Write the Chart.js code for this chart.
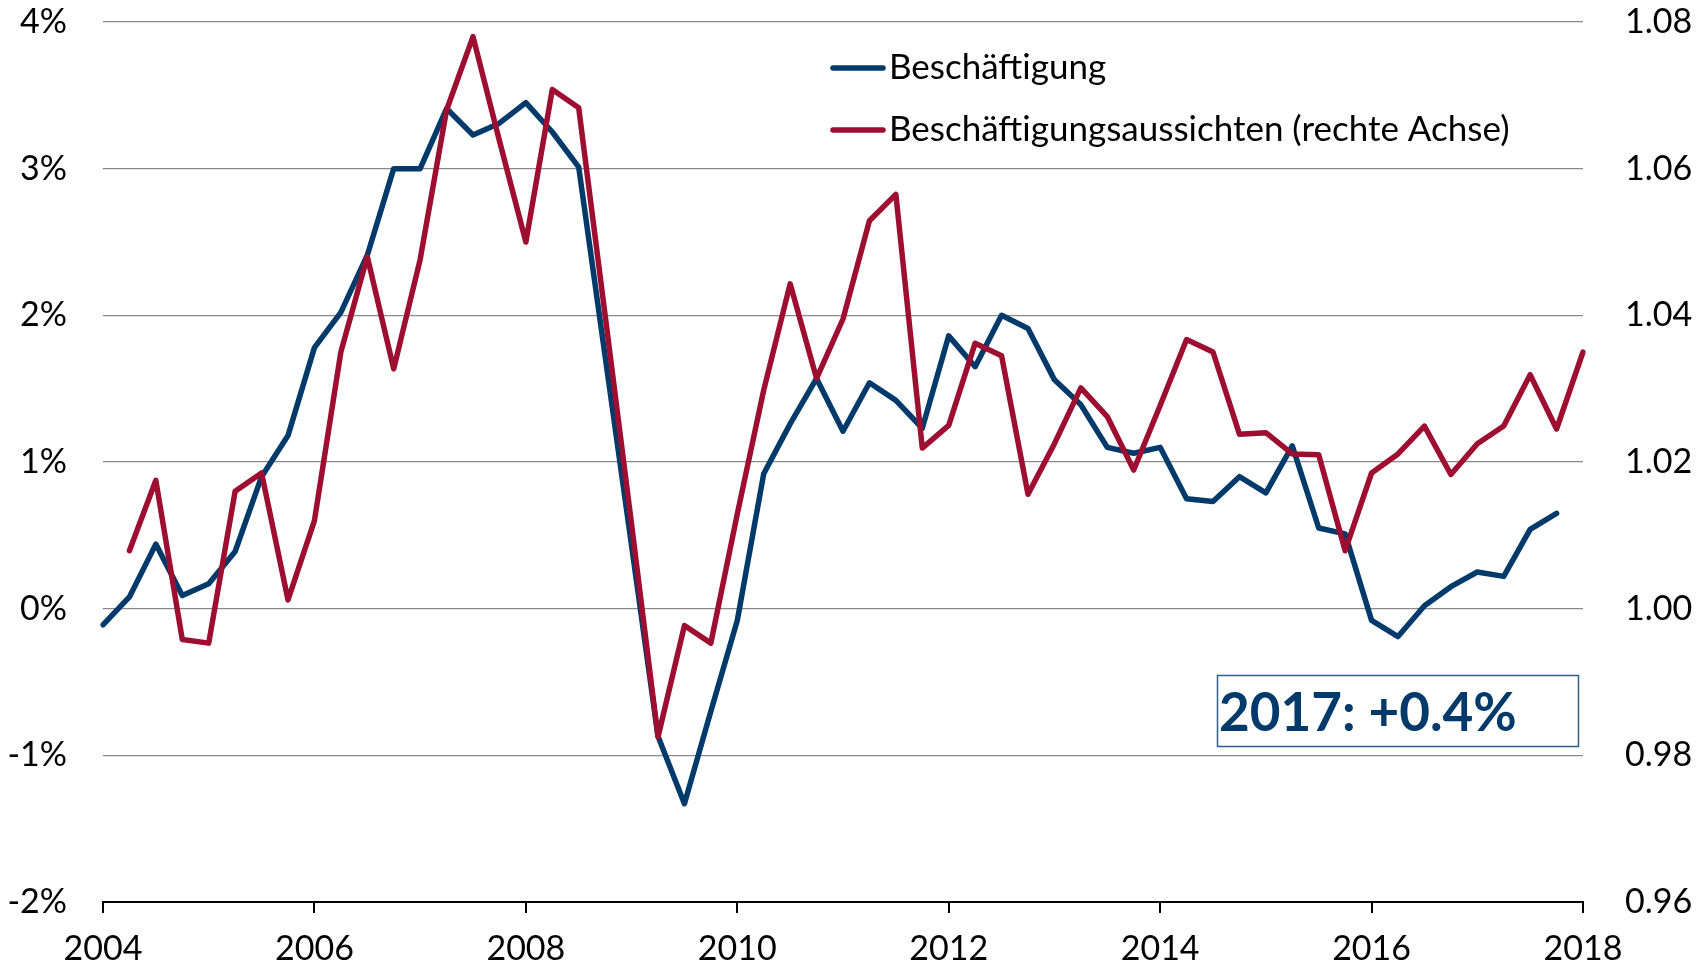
<!DOCTYPE html>
<html>
<head>
<meta charset="utf-8">
<script src="https://cdn.jsdelivr.net/npm/chart.js@4.4.0/dist/chart.umd.min.js"></script>
<style>
	body { margin: 0; background: #fff; }
	#wrap { width: 1708px; height: 965px; position: relative; }
</style>
</head>
<body>
<div id="wrap"><canvas id="employmentChart"></canvas></div>
<script>
// quarterly, 2004 Q1 .. 2018 Q1
const startYear = 2004;
const quarterCount = 57;
const quarters = [];
for (let i = 0; i < quarterCount; i++) {
	quarters.push(startYear + Math.floor(i / 4) + ' Q' + ((i % 4) + 1));
}

const seriesNames = ['Beschäftigung', 'Beschäftigungsaussichten (rechte Achse)'];
const seriesColors = ['#003a6a', '#9d0e30'];

// Beschäftigung, % yoy (left axis)
const employment = [
	-0.11, 0.08, 0.44, 0.09, 0.17, 0.39, 0.90, 1.18,
	1.78, 2.02, 2.41, 3.00, 3.00, 3.41, 3.23, 3.31,
	3.45, 3.25, 3.01, 1.72, 0.43, -0.87, -1.33, -0.70,
	-0.08, 0.92, 1.26, 1.57, 1.21, 1.54, 1.42, 1.23,
	1.86, 1.65, 2.00, 1.91, 1.56, 1.39, 1.10, 1.06,
	1.10, 0.75, 0.73, 0.90, 0.79, 1.11, 0.55, 0.51,
	-0.08, -0.19, 0.02, 0.15, 0.25, 0.22, 0.54, 0.65,
	null
];

// Beschäftigungsaussichten (right axis)
const outlook = [
	null, 1.0079, 1.0175, 0.9958, 0.9953, 1.0160, 1.0185, 1.0012,
	1.0120, 1.0350, 1.0480, 1.0327, 1.0476, 1.0680, 1.0780, 1.0638,
	1.0500, 1.0708, 1.0683, 1.0400, 1.0115, 0.9825, 0.9977, 0.9953,
	1.0129, 1.0298, 1.0443, 1.0314, 1.0395, 1.0529, 1.0565, 1.0219,
	1.0250, 1.0362, 1.0345, 1.0156, 1.0225, 1.0301, 1.0262, 1.0189,
	1.0277, 1.0367, 1.0350, 1.0238, 1.0240, 1.0211, 1.0210, 1.0079,
	1.0185, 1.0211, 1.0249, 1.0183, 1.0225, 1.0249, 1.0319, 1.0245,
	1.0350
];

const leftTicks = [-2, -1, 0, 1, 2, 3, 4];
const rightTicks = [0.96, 0.98, 1.00, 1.02, 1.04, 1.06, 1.08];
const annotationText = '2017: +0.4%';

const fontFamily = 'Lato, "Open Sans", sans-serif';

// legend and the 2017 box, drawn on top
const overlayPlugin = {
	id: 'overlay',
	afterDraw: (chart) => {
		const ctx = chart.ctx;
		ctx.save();
		// legend
		const legendY = [68, 130];
		seriesNames.forEach((name, i) => {
			ctx.strokeStyle = seriesColors[i];
			ctx.lineWidth = 5.5;
			ctx.lineCap = 'round';
			ctx.beginPath();
			ctx.moveTo(833, legendY[i]);
			ctx.lineTo(883, legendY[i]);
			ctx.stroke();
			ctx.fillStyle = '#000';
			ctx.font = '35px ' + fontFamily;
			ctx.textBaseline = 'middle';
			ctx.textAlign = 'left';
			ctx.fillText(name, 889, legendY[i]);
		});
		// annotation box
		ctx.strokeStyle = '#2f5f8c';
		ctx.lineWidth = 1.5;
		ctx.strokeRect(1217.5, 675.5, 361, 71);
		ctx.fillStyle = seriesColors[0];
		ctx.font = 'bold 53px ' + fontFamily;
		ctx.textBaseline = 'alphabetic';
		ctx.fillText(annotationText, 1219, 731);
		ctx.restore();
	},
};

const employmentChart = document.getElementById('employmentChart');
new Chart(employmentChart, {
	type: 'line',
	data: {
		labels: quarters,
		datasets: [
			{
				label: seriesNames[0],
				data: employment,
				yAxisID: 'y',
				borderColor: seriesColors[0],
				borderWidth: 5.5,
				order: 1,
			},
			{
				label: seriesNames[1],
				data: outlook,
				yAxisID: 'y1',
				borderColor: seriesColors[1],
				borderWidth: 5.5,
				order: 0,
			},
		],
	},
	options: {
		responsive: true,
		maintainAspectRatio: false,
		animation: false,
		layout: {
			padding: { top: 22, left: 0, right: 0, bottom: 0 },
		},
		elements: {
			point: { radius: 0 },
			line: {
				tension: 0,
				borderCapStyle: 'round',
				borderJoinStyle: 'round',
			},
		},
		plugins: {
			legend: { display: false },
			tooltip: { enabled: false },
		},
		scales: {
			x: {
				type: 'category',
				offset: false,
				border: { display: true, color: '#000', width: 2 },
				grid: {
					drawOnChartArea: false,
					drawTicks: true,
					tickLength: 11,
					color: '#000',
					lineWidth: 2,
				},
				ticks: {
					autoSkip: false,
					maxRotation: 0,
					color: '#000',
					padding: 16,
					font: { family: fontFamily, size: 34 },
					callback: (value, index) => (index % 8 === 0 ? String(startYear + index / 4) : null),
				},
				afterFit: (scale) => {
					scale.height = 63;
				},
			},
			y: {
				position: 'left',
				min: -2,
				max: 4,
				border: { display: false },
				grid: {
					color: '#8a8a8a',
					lineWidth: 1.3,
					drawTicks: true,
					tickLength: 36,
					tickColor: 'transparent',
				},
				afterBuildTicks: (scale) => {
					scale.ticks = leftTicks.map((v) => ({ value: v }));
				},
				ticks: {
					color: '#000',
					padding: 0,
					font: { family: fontFamily, size: 34 },
					callback: (value) => value + '%',
				},
				afterFit: (scale) => {
					scale.width = 103;
				},
			},
			y1: {
				position: 'right',
				min: 0.96,
				max: 1.08,
				border: { display: false },
				grid: {
					drawOnChartArea: false,
					drawTicks: true,
					tickLength: 42,
					tickColor: 'transparent',
				},
				afterBuildTicks: (scale) => {
					scale.ticks = rightTicks.map((v) => ({ value: v }));
				},
				ticks: {
					color: '#000',
					padding: 0,
					font: { family: fontFamily, size: 34 },
					callback: (value) => value.toFixed(2),
				},
				afterFit: (scale) => {
					scale.width = 125;
				},
			},
		},
	},
	plugins: [overlayPlugin],
});
</script>
</body>
</html>
